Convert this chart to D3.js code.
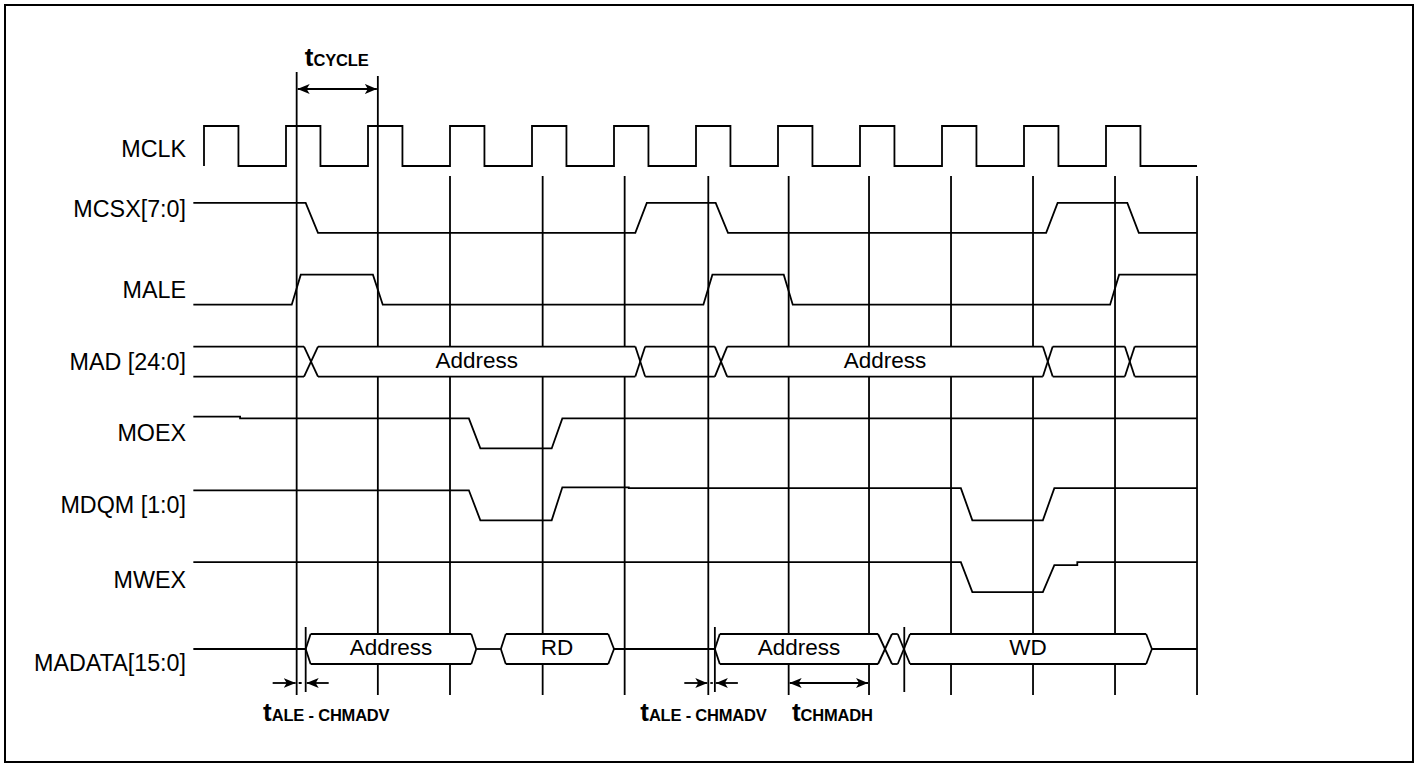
<!DOCTYPE html>
<html>
<head>
<meta charset="utf-8">
<script src="https://cdn.jsdelivr.net/npm/d3@7"></script>
<style>
  body { margin: 0; background: #fff; }
  svg text { font-family: Arial, "Liberation Sans", sans-serif; fill: #000; }
</style>
</head>
<body>
<div class="svg-container"></div>
<script>
// signal rows, top to bottom
const SIGNALS = ["MCLK", "MCSX[7:0]", "MALE", "MAD [24:0]", "MOEX", "MDQM [1:0]", "MWEX", "MADATA[15:0]"];

// time axis in ns, one MCLK period = 10
const T_START = -1.3;
const T_END = 121.1;
const CLK_RISE = [0, 10, 20, 30, 40, 50, 60, 70, 80, 90, 100, 110];
const CLK_HIGH = 4.2;

// vertical reference lines
const GRID = [11.3, 21.2, 30, 41.3, 51.3, 61.5, 71.3, 81.1, 91.1, 101.1, 111.1, 121.1];
const MARKS = [12.4, 62.3, 85.4];

// single-bit signals: [time, level]
const MCSX = [[-1.3, 1], [12.4, 1], [13.9, 0], [52.6, 0], [54.0, 1], [62.4, 1], [63.9, 0], [102.7, 0], [104.1, 1], [112.6, 1], [114.0, 0], [121.1, 0]];
const MALE = [[-1.3, 0], [10.7, 0], [11.8, 1], [20.6, 1], [21.8, 0], [60.9, 0], [62.0, 1], [70.7, 1], [71.8, 0], [110.5, 0], [111.6, 1], [121.1, 1]];
const MOEX = [[-1.3, 1.06], [4.4, 1.06], [4.4, 1], [32.3, 1], [33.7, 0], [42.4, 0], [43.7, 1], [121.1, 1]];
const MDQM = [[-1.3, 1], [32.3, 1], [33.7, 0], [42.4, 0], [43.7, 1.1], [51.8, 1.1], [51.8, 1.07], [92.3, 1.07], [93.7, 0], [102.3, 0], [103.7, 1.07], [121.1, 1.07]];
const MWEX = [[-1.3, 1], [92.3, 1], [93.7, 0], [102.3, 0], [103.7, 0.9], [106.5, 0.9], [106.5, 1], [121.1, 1]];

// buses: transition windows and the value held between them (null = released)
const MAD_EDGES = [[12.2, 13.9], [52.6, 53.8], [62.3, 63.8], [102.3, 103.5], [112.3, 113.5]];
const MAD_STATES = ["", "Address", "", "Address", "", ""];
const MADATA_EDGES = [[12.4, 13.0], [32.6, 33.2], [36.2, 36.8], [49.3, 50.0], [62.3, 62.9], [82.2, 83.9], [84.6, 86.1], [114.9, 115.6]];
const MADATA_STATES = [null, "Address", null, "RD", null, "Address", "", "WD", null];

// timing parameters
const TIMINGS = [
    { sub: "CYCLE", from: 11.3, to: 21.2, kind: "span", at: "top", label: 12.3 },
    { sub: "ALE - CHMADV", from: 11.3, to: 12.4, kind: "inward", at: "bottom", label: 7.2 },
    { sub: "ALE - CHMADV", from: 61.5, to: 62.3, kind: "inward", at: "bottom", label: 53.2 },
    { sub: "CHMADH", from: 71.3, to: 81.1, kind: "span", at: "bottom", label: 71.7 },
];

const width = 1420;
const height = 767;

const x = d3.scaleLinear().domain([0, 120]).range([204, 1188]);
const row = d3.scalePoint().domain(SIGNALS).range([146, 649]);
const line = d3.line().x(d => d[0]).y(d => d[1]);

const svg = d3.select(".svg-container").append("svg")
    .attr("width", width)
    .attr("height", height);

// arrow heads
const defs = svg.append("defs");
defs.append("marker")
    .attr("id", "head")
    .attr("viewBox", "0 0 12 10")
    .attr("refX", 12).attr("refY", 5)
    .attr("markerWidth", 12).attr("markerHeight", 10)
    .attr("markerUnits", "userSpaceOnUse")
    .attr("orient", "auto-start-reverse")
    .append("path").attr("d", "M0,0 L12,5 L0,10 L3,5 Z").attr("fill", "#000");

// frame
svg.append("rect")
    .attr("x", 5).attr("y", 5)
    .attr("width", 1408).attr("height", 757)
    .attr("fill", "none").attr("stroke", "#000").attr("stroke-width", 2);

const g = svg.append("g")
    .attr("fill", "none")
    .attr("stroke", "#000")
    .attr("stroke-width", 1.8);

// vertical reference lines
const bottomY = row("MADATA[15:0]") + 46;
g.selectAll(".grid")
    .data(GRID)
    .enter()
    .append("line")
    .classed("grid", true)
    .attr("x1", d => x(d)).attr("x2", d => x(d))
    .attr("y1", (d, i) => i === 0 ? 72 : i === 1 ? 76 : row("MCLK") + 30)
    .attr("y2", bottomY);

g.selectAll(".mark")
    .data(MARKS)
    .enter()
    .append("line")
    .classed("mark", true)
    .attr("x1", d => x(d)).attr("x2", d => x(d))
    .attr("y1", row("MADATA[15:0]") - 22)
    .attr("y2", bottomY - 3);

// clock
const clkY = level => row("MCLK") + (0.5 - level) * 40;
const clkPts = [[x(CLK_RISE[0]), clkY(0)]];
CLK_RISE.forEach(t => {
    clkPts.push([x(t), clkY(0)], [x(t), clkY(1)], [x(t + CLK_HIGH), clkY(1)], [x(t + CLK_HIGH), clkY(0)]);
});
clkPts.push([x(T_END), clkY(0)]);
g.append("path").attr("d", line(clkPts));

// single-bit signals
const bits = [["MCSX[7:0]", MCSX], ["MALE", MALE], ["MOEX", MOEX], ["MDQM [1:0]", MDQM], ["MWEX", MWEX]];
bits.forEach(([name, pts]) => {
    const yc = row(name);
    g.append("path")
        .attr("d", line(pts.map(p => [x(p[0]), yc + (0.5 - p[1]) * 30])));
});

// buses
function drawBus(name, edges, states) {
    const yc = row(name);
    const top = yc - 15, bot = yc + 15;
    const segs = [];
    states.forEach((s, i) => {
        const a = i === 0 ? T_START : edges[i - 1][1];
        const b = i === states.length - 1 ? T_END : edges[i][0];
        if (s === null) {
            segs.push([[x(a), yc], [x(b), yc]]);
        } else {
            segs.push([[x(a), top], [x(b), top]], [[x(a), bot], [x(b), bot]]);
            if (s) {
                // labelled value hides the reference lines behind it
                g.append("rect")
                    .attr("x", x(a)).attr("y", top)
                    .attr("width", x(b) - x(a)).attr("height", bot - top)
                    .attr("fill", "#fff").attr("stroke", "none");
                svg.append("text")
                    .attr("x", (x(a) + x(b)) / 2)
                    .attr("y", yc)
                    .attr("dy", "0.27em")
                    .attr("text-anchor", "middle")
                    .attr("font-size", 22.5)
                    .text(s);
            }
        }
    });
    edges.forEach(([a, b], j) => {
        const l = states[j], r = states[j + 1];
        if (l === null) {
            segs.push([[x(a), yc], [x(b), top]], [[x(a), yc], [x(b), bot]]);
        } else if (r === null) {
            segs.push([[x(a), top], [x(b), yc]], [[x(a), bot], [x(b), yc]]);
        } else {
            segs.push([[x(a), top], [x(b), bot]], [[x(a), bot], [x(b), top]]);
        }
    });
    g.selectAll(null)
        .data(segs)
        .enter()
        .append("path")
        .attr("d", d => line(d));
}
drawBus("MAD [24:0]", MAD_EDGES, MAD_STATES);
drawBus("MADATA[15:0]", MADATA_EDGES, MADATA_STATES);

// signal names
const nudge = { "MCLK": 11, "MCSX[7:0]": -1, "MWEX": 11, "MADATA[15:0]": 22 };
svg.selectAll(".name")
    .data(SIGNALS)
    .enter()
    .append("text")
    .classed("name", true)
    .attr("x", 186)
    .attr("y", d => row(d) + (nudge[d] !== undefined ? nudge[d] : 8))
    .attr("text-anchor", "end")
    .attr("font-size", 23.3)
    .text(d => d);

// timing annotations
const arrowY = { top: 89, bottom: row("MADATA[15:0]") + 34 };
const labelY = { top: 66, bottom: row("MADATA[15:0]") + 72 };
TIMINGS.forEach(tm => {
    const y = arrowY[tm.at];
    const x0 = x(tm.from), x1 = x(tm.to);
    if (tm.kind === "span") {
        g.append("line")
            .attr("x1", x0 + 1).attr("x2", x1 - 1)
            .attr("y1", y).attr("y2", y)
            .attr("marker-start", "url(#head)")
            .attr("marker-end", "url(#head)");
    } else {
        g.append("line")
            .attr("x1", x0 - 24).attr("x2", x0 - 1)
            .attr("y1", y).attr("y2", y)
            .attr("marker-end", "url(#head)");
        g.append("line")
            .attr("x1", x1 + 23).attr("x2", x1 + 1)
            .attr("y1", y).attr("y2", y)
            .attr("marker-end", "url(#head)");
        g.append("line")
            .attr("x1", x0 + 2).attr("x2", x1 - 2)
            .attr("y1", y).attr("y2", y)
            .attr("stroke-dasharray", "3,2");
    }
    const t = svg.append("text")
        .attr("x", x(tm.label))
        .attr("y", labelY[tm.at])
        .attr("font-weight", "bold");
    t.append("tspan").attr("font-size", 26).text("t");
    t.append("tspan").attr("font-size", 16.5).attr("letter-spacing", -0.2).text(tm.sub);
});
</script>
</body>
</html>
